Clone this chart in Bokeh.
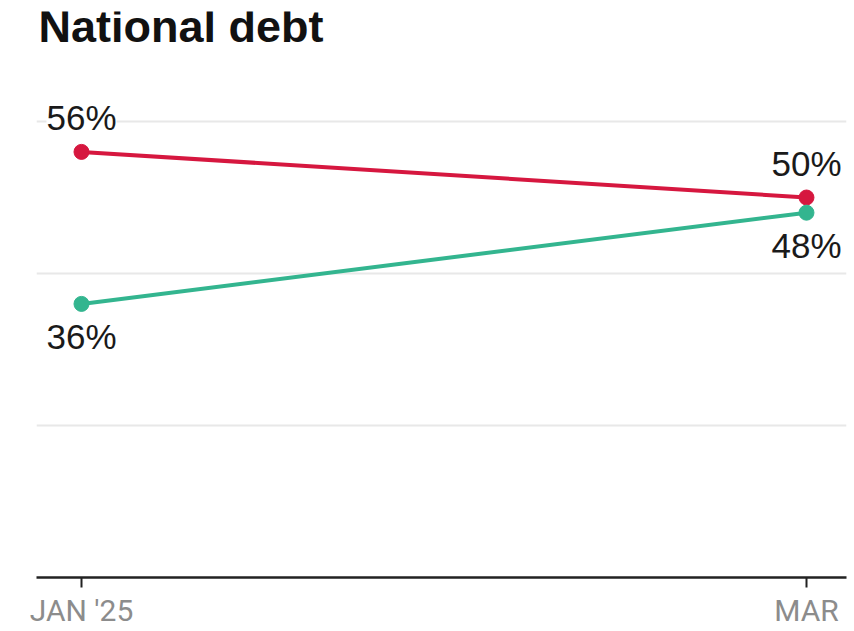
from bokeh.plotting import figure
from bokeh.models import ColumnDataSource, LabelSet, Label, FixedTicker, Range1d
from bokeh.core.properties import value
from bokeh.embed import file_html
from bokeh.resources import INLINE

# ---- data ----
months = ["JAN '25", "MAR"]
month_idx = [0, 2]          # months since Jan 2025
red_vals = [56, 50]
green_vals = [36, 48]
grid_ticks = [20, 40, 60]
title_text = "National debt"

RED = "#d6173f"
GREEN = "#33b58f"

PX_PER_UNIT = 7.6
FRAME_H = 566

p = figure(frame_width=810, frame_height=FRAME_H,
           x_range=Range1d(-0.1241, 2.1104),
           y_range=Range1d(0, FRAME_H / PX_PER_UNIT),
           output_backend="svg", toolbar_location=None,
           min_border_left=36, min_border_right=4,
           min_border_top=11, min_border_bottom=50)
p.outline_line_color = None
p.background_fill_color = "white"
p.border_fill_color = "white"

p.yaxis.visible = False
p.xgrid.visible = False
p.ygrid.ticker = FixedTicker(ticks=grid_ticks)
p.ygrid.grid_line_color = "#e8e8e8"
p.ygrid.grid_line_width = 2

xa = p.xaxis[0]
xa.ticker = FixedTicker(ticks=month_idx)
xa.major_label_overrides = {i: m for i, m in zip(month_idx, months)}
xa.axis_line_color = "#222222"
xa.axis_line_width = 2.5
xa.major_tick_line_color = "#222222"
xa.major_tick_line_width = 2
xa.major_tick_in = 0
xa.major_tick_out = 10
xa.minor_tick_line_color = None
xa.major_label_standoff = 5
xa.major_label_text_font = "Roboto"
xa.major_label_text_font_size = "30px"
xa.major_label_text_color = "#8c8c8c"

red_src = ColumnDataSource(dict(x=month_idx, y=red_vals,
                                t=[f"{v}%" for v in red_vals]))
green_src = ColumnDataSource(dict(x=month_idx, y=green_vals,
                                  t=[f"{v}%" for v in green_vals]))

p.line("x", "y", source=red_src, color=RED, line_width=4)
p.scatter("x", "y", source=red_src, color=RED, size=15)
p.line("x", "y", source=green_src, color=GREEN, line_width=4)
p.scatter("x", "y", source=green_src, color=GREEN, size=15)

p.add_layout(LabelSet(x="x", y="y", text="t", source=red_src,
                      text_align="center", text_baseline="alphabetic",
                      y_offset=22, text_font=value("Liberation Sans"),
                      text_font_size=value("35px"), text_color="#1a1a1a",
                      background_fill_color="white"))
p.add_layout(LabelSet(x="x", y="y", text="t", source=green_src,
                      text_align="center", text_baseline="alphabetic",
                      y_offset=-45, text_font=value("Liberation Sans"),
                      text_font_size=value("35px"), text_color="#1a1a1a"))

p.add_layout(Label(x=-0.1186, y=72.5, text=title_text,
                   text_font="Liberation Sans", text_font_style="bold",
                   text_font_size="45px", text_color="#111111",
                   text_baseline="alphabetic"))

open("out.html", "w").write(file_html(p, INLINE))
